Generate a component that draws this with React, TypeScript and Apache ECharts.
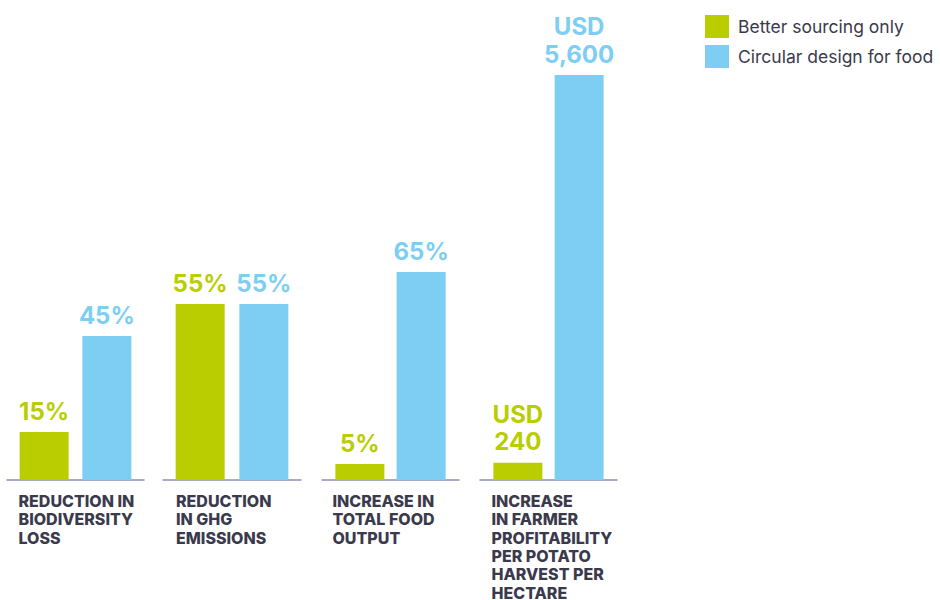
import React, { useEffect, useRef } from "react";
import * as echarts from "echarts";

const categories = [
  "REDUCTION IN\nBIODIVERSITY\nLOSS",
  "REDUCTION\nIN GHG\nEMISSIONS",
  "INCREASE IN\nTOTAL FOOD\nOUTPUT",
  "INCREASE\nIN FARMER\nPROFITABILITY\nPER POTATO\nHARVEST PER\nHECTARE",
];
const seriesNames = ["Better sourcing only", "Circular design for food"];
const betterSourcing = [15, 55, 5, 240];
const circularDesign = [45, 55, 65, 5600];
const units = ["%", "%", "%", "USD"];
const axisMax = [100, 100, 100, 6000];

const GREEN = "#b9cd00";
const BLUE = "#7ecef4";
const TEXT = "#3b3a4c";
const FONT = "Inter, 'Open Sans', sans-serif";

const gridLayout = [
  { left: 7, width: 137, top: 160, height: 320 },
  { left: 163, width: 138, top: 160, height: 320 },
  { left: 322, width: 137, top: 160, height: 320 },
  { left: 480, width: 137, top: 46, height: 434 },
];
const gaps = ["28%", "30%", "25%", "25%"];
const labelShift = [-57, -56, -58, -57];

function fmt(v: number, unit: string) {
  if (unit === "USD") return "USD\n" + v.toLocaleString("en-US");
  return v + unit;
}

export default function App() {
  const ref = useRef<HTMLDivElement>(null);
  useEffect(() => {
    if (!ref.current) return;
    const chart = echarts.init(ref.current, null, { renderer: "svg" });
    const grids = gridLayout.map((g) => ({ ...g, containLabel: false, outerBoundsMode: "none" }));
    const xAxes = categories.map((c, i) => ({
      type: "category",
      gridIndex: i,
      data: [c],
      axisLine: { show: true, lineStyle: { color: "#8a8eb6", width: 1.5 } },
      axisTick: { show: false },
      axisLabel: {
        interval: 0,
        align: "left",
        verticalAlign: "top",
        margin: 12,
        padding: [0, 0, 0, labelShift[i]],
        color: TEXT,
        fontFamily: FONT,
        fontWeight: 800,
        fontSize: 16,
        lineHeight: 18.3,
      },
    }));
    const yAxes = categories.map((_, i) => ({
      type: "value",
      gridIndex: i,
      min: 0,
      max: axisMax[i],
      show: false,
    }));
    const series: any[] = [];
    categories.forEach((_, i) => {
      [betterSourcing, circularDesign].forEach((arr, k) => {
        const color = k === 0 ? GREEN : BLUE;
        series.push({
          type: "bar",
          name: seriesNames[k],
          xAxisIndex: i,
          yAxisIndex: i,
          data: [arr[i]],
          barWidth: 49,
          barGap: gaps[i],
          itemStyle: { color },
          label: {
            show: true,
            position: "top",
            distance: 7,
            color,
            fontFamily: FONT,
            fontWeight: 700,
            fontSize: 24,
            lineHeight: 27.6,
            formatter: (p: any) => fmt(p.value, units[i]),
          },
        });
      });
    });
    chart.setOption({
      animation: false,
      backgroundColor: "#ffffff",
      legend: {
        orient: "vertical",
        left: 700,
        top: 10,
        itemWidth: 24,
        itemHeight: 23,
        itemGap: 7,
        selectedMode: false,
        data: seriesNames.map((n, k) => ({
          name: n,
          icon: "rect",
          itemStyle: { color: k === 0 ? GREEN : BLUE },
        })),
        textStyle: {
          color: TEXT,
          fontFamily: FONT,
          fontSize: 17.5,
          padding: [0, 0, 0, 4],
        },
      },
      grid: grids,
      xAxis: xAxes,
      yAxis: yAxes,
      series,
    });
    return () => chart.dispose();
  }, []);
  return (
    <div
      ref={ref}
      style={{ position: "fixed", left: 0, top: 0, width: 940, height: 600, background: "#fff" }}
    />
  );
}
